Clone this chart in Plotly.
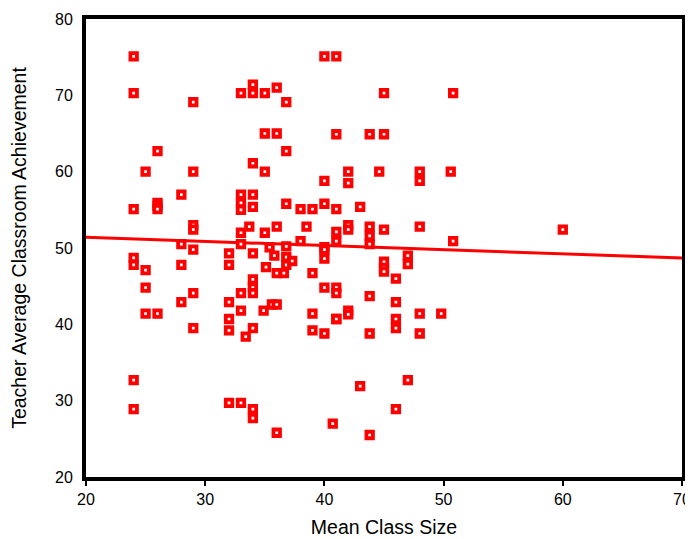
import plotly.graph_objects as go

# Mean class size (x) and teacher average classroom achievement (y)
class_size = [
    24, 24, 29, 33, 34, 34, 35, 36, 35, 36, 26, 25, 29, 34, 35, 28, 33, 34, 33, 33, 34, 24,
    26, 26, 26, 29, 29, 33.7, 33, 35, 36, 28, 33, 29, 32, 34, 35.4, 24, 24, 25, 28, 32, 35.1,
    25, 29, 28, 32, 33, 34, 34, 34, 34.9, 35.6, 36, 25, 26, 29, 32, 33, 32, 34, 33.4, 24, 24,
    32, 33, 34, 34, 36,
    40, 41, 36.8, 45, 50.8, 41, 43.8, 45, 36.8, 42, 42, 40, 44.6, 48, 48, 50.6, 36.8, 38, 39,
    40, 41, 43, 38.5, 41, 41, 42, 42, 43.8, 43.8, 43.8, 45, 48, 50.8, 38, 36, 36.8, 40,
    36.8, 36.8, 37.3, 35.8, 36.6, 40, 40, 47, 47, 45, 45, 45, 39, 46, 40, 41, 41, 43.8, 46,
    39, 41, 42, 42, 41, 46, 46, 48, 49.8, 39, 40, 43.8, 48, 43, 47, 46, 40.7, 43.8, 60,
]
achievement = [
    75.1, 70.3, 69.1, 70.3, 71.4, 70.3, 70.3, 71.0, 65.0, 65.0, 62.7, 60.0, 60.0, 61.1, 60.0, 57.0, 57.0, 57.0, 55.9, 55.0, 55.4, 55.1,
    55.9, 55.5, 55.1, 53.0, 52.4, 52.8, 52.0, 52.0, 52.8, 50.5, 50.5, 49.8, 49.3, 49.3, 50.1, 48.7, 47.8, 47.1, 47.8, 47.8, 47.5,
    44.8, 44.1, 42.9, 42.9, 44.1, 45.9, 44.8, 44.1, 41.8, 42.6, 42.6, 41.4, 41.4, 39.5, 40.7, 41.8, 39.2, 39.5, 38.4, 32.7, 28.9,
    29.7, 29.7, 28.9, 27.7, 25.8,
    75.1, 75.1, 69.1, 70.3, 70.3, 64.9, 64.9, 64.9, 62.7, 60.0, 58.5, 58.8, 60.0, 60.0, 58.8, 60.0, 55.8, 55.1, 55.1,
    55.8, 55.1, 55.4, 52.8, 52.1, 50.9, 53.0, 52.4, 52.8, 51.6, 50.5, 52.4, 52.8, 50.9, 50.9, 46.7, 50.2, 50.1,
    48.8, 47.8, 48.3, 49.0, 46.7, 49.8, 48.6, 49.0, 47.9, 48.2, 47.4, 46.9, 46.7, 46.0, 44.8, 44.8, 44.1, 43.7, 42.9,
    41.4, 40.7, 41.8, 41.3, 40.7, 40.7, 39.5, 41.4, 41.4, 39.2, 38.8, 38.8, 38.8, 31.9, 32.7, 28.9, 27.0, 25.5, 52.4,
]

# Fitted regression line
fit_x = [20, 70]
fit_y = [51.4, 48.7]

x_ticks = [20, 30, 40, 50, 60, 70]
y_ticks = [20, 30, 40, 50, 60, 70, 80]

FONT = "Liberation Sans, Arial, Helvetica, sans-serif"

fig = go.Figure()
fig.add_trace(go.Scatter(
    x=fit_x, y=fit_y, mode="lines",
    line=dict(color="#ff0000", width=3),
    hoverinfo="skip", showlegend=False, cliponaxis=True,
))
fig.add_trace(go.Scatter(
    x=class_size, y=achievement, mode="markers",
    marker=dict(symbol="square", size=6.5, color="white",
                line=dict(color="#ff0000", width=3.8)),
    showlegend=False,
))

axis_common = dict(
    showgrid=False, zeroline=False, automargin=False,
    showline=True, linecolor="black", linewidth=4, mirror=True,
    tickfont=dict(family=FONT, size=16, color="black"),
    ticklabeloverflow="allow",
)

# The page body adds an 8px margin, so the figure is sized to fit the window.
fig.update_layout(
    width=685, height=531,
    margin=dict(l=78, r=11, t=11, b=62),
    paper_bgcolor="white", plot_bgcolor="white",
    font=dict(family=FONT, color="black"),
    xaxis=dict(range=[20, 70], tickvals=x_ticks,
               ticks="outside", ticklen=5, tickwidth=2, tickcolor="black",
               title=dict(text="Mean Class Size", font=dict(size=19.5), standoff=14),
               **axis_common),
    yaxis=dict(range=[20, 80], tickvals=y_ticks,
               ticks="outside", ticklen=6, tickwidth=1, tickcolor="rgba(0,0,0,0)",
               title=dict(text="Teacher Average Classroom Achievement", font=dict(size=19.5), standoff=27),
               **axis_common),
)

fig.write_html("out.html")
